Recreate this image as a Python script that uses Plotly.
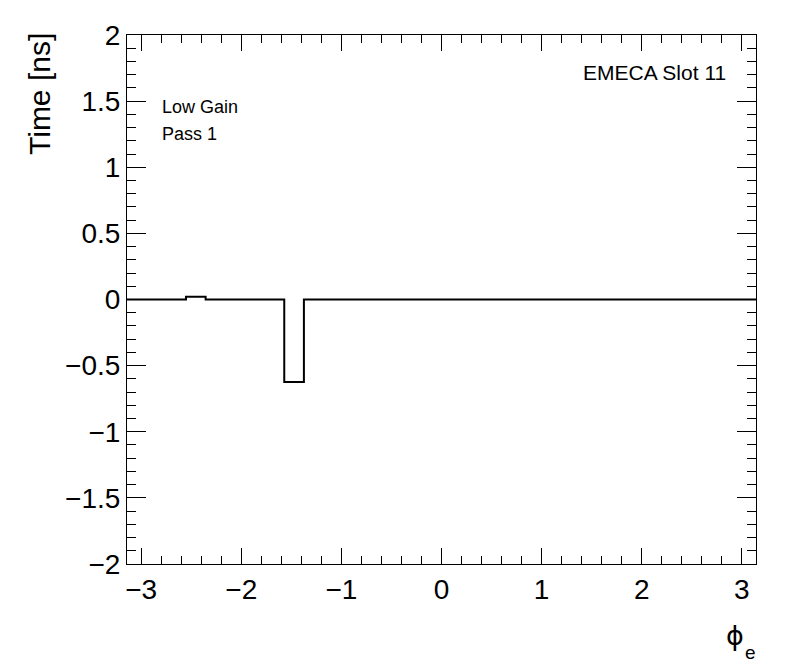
import numpy as np
import plotly.graph_objects as go

# Histogram: 32 bins in phi from -pi to pi
n_bins = 32
phi_min, phi_max = -np.pi, np.pi
time_values = [0.0, 0.0, 0.0, 0.02, 0.0, 0.0, 0.0, 0.0,
               -0.623, 0.0, 0.0, 0.0, 0.0, 0.0, 0.0, 0.0,
               0.0, 0.0, 0.0, 0.0, 0.0, 0.0, 0.0, 0.0,
               0.0, 0.0, 0.0, 0.0, 0.0, 0.0, 0.0, 0.0]
edges = np.linspace(phi_min, phi_max, n_bins + 1)

x_title = "ϕ"
x_sub = "e"
y_title = "Time [ns]"
labels = ["Low Gain", "Pass 1"]
slot_label = "EMECA Slot 11"

# page has an 8px body margin; figure sized to fit the window
OFF = 8
W, H = 796 - OFF, 672 - OFF
PL, PT, PR, PB = 127, 35, 756, 564   # plot area in page pixels
pw, ph = PR - PL, PB - PT
L, T = PL - OFF, PT - OFF
R, B = W - L - pw, H - T - ph

def px_x(px):
    return (px - PL) / pw

def px_y(py):
    return 1 - (py - PT) / ph

FONT = "Liberation Sans, Arial, Helvetica, sans-serif"

fig = go.Figure()
fig.add_trace(go.Scatter(
    x=list(edges), y=time_values + [time_values[-1]],
    mode="lines", line=dict(shape="hv", color="black", width=2),
    showlegend=False, hoverinfo="skip"))

axis_common = dict(showline=True, linecolor="black", linewidth=1, mirror="allticks",
                   ticks="inside", tickcolor="black", tickwidth=1,
                   showgrid=False, zeroline=False,
                   tickfont=dict(family=FONT, size=28, color="black"))

fig.update_xaxes(range=[phi_min, phi_max], tick0=0, dtick=1, ticklen=16,
                 minor=dict(ticks="inside", dtick=0.2, tick0=0, ticklen=8, tickcolor="black", showgrid=False),
                 **axis_common)
fig.update_yaxes(range=[-2, 2], tick0=0, dtick=0.5, ticklen=19,
                 minor=dict(ticks="inside", dtick=0.1, tick0=0, ticklen=9, tickcolor="black", showgrid=False),
                 **axis_common)

annotations = [
    dict(text=y_title, x=px_x(40), y=px_y(31), xref="paper", yref="paper",
         textangle=-90, xanchor="center", yanchor="top", showarrow=False,
         font=dict(family=FONT, size=30, color="black")),
    dict(text=x_title, x=px_x(735), y=px_y(635), xref="paper", yref="paper",
         xanchor="center", yanchor="middle", showarrow=False,
         font=dict(family="DejaVu Sans, sans-serif", size=27, color="black")),
    dict(text=x_sub, x=px_x(750), y=px_y(652), xref="paper", yref="paper",
         xanchor="center", yanchor="middle", showarrow=False,
         font=dict(family=FONT, size=19, color="black")),
    dict(text=labels[0], x=px_x(160), y=px_y(107), xref="paper", yref="paper",
         xanchor="left", yanchor="middle", showarrow=False,
         font=dict(family=FONT, size=18, color="black")),
    dict(text=labels[1], x=px_x(160), y=px_y(134), xref="paper", yref="paper",
         xanchor="left", yanchor="middle", showarrow=False,
         font=dict(family=FONT, size=18, color="black")),
    dict(text=slot_label, x=px_x(728), y=px_y(72), xref="paper", yref="paper",
         xanchor="right", yanchor="middle", showarrow=False,
         font=dict(family=FONT, size=21, color="black")),
]

fig.update_layout(width=W, height=H, margin=dict(l=L, r=R, t=T, b=B),
                  paper_bgcolor="white", plot_bgcolor="white",
                  annotations=annotations, showlegend=False)

fig.write_html("out.html")
